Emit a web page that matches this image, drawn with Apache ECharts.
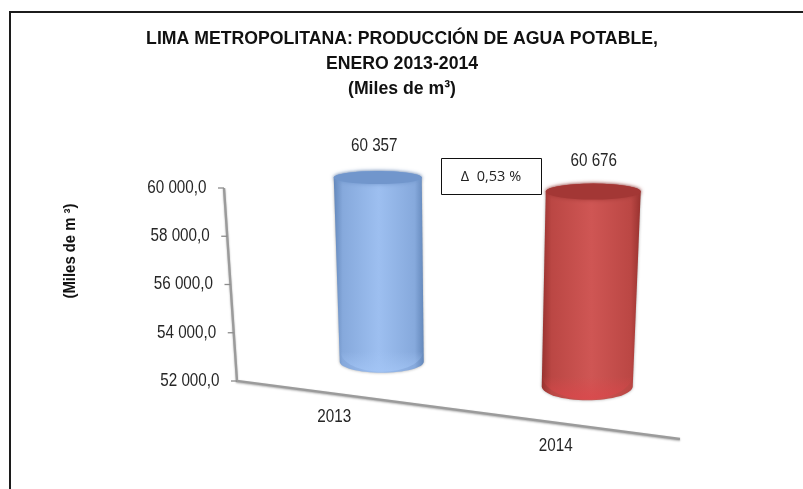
<!DOCTYPE html>
<html>
<head>
<meta charset="utf-8">
<title>Lima Metropolitana</title>
<script src="https://cdn.jsdelivr.net/npm/echarts@6/dist/echarts.min.js"></script>
<style>
html, body { margin: 0; padding: 0; background: #fff; }
#chart { width: 803px; height: 489px; }
</style>
</head>
<body>
<div id="chart"></div>
<script>
// data
var years = ['2013', '2014'];
var produccion = [60357, 60676];
var yTicks = [52000, 54000, 56000, 58000, 60000];
var yTickLabels = ['52 000,0', '54 000,0', '56 000,0', '58 000,0', '60 000,0'];
var valueLabels = ['60 357', '60 676'];
var variacion = 'Δ  0,53 %';
var chartTitle = 'LIMA METROPOLITANA: PRODUCCIÓN DE AGUA POTABLE,\nENERO 2013-2014\n(Miles de m³)';
var yName = '(Miles de m ³)';

// fake 3d: the plot floor runs downhill and the y axis leans left
var yMin = 52000, yMax = 60000;
var floorSlope = 58 / 443, axisLean = 13 / 8000;
var depthX = [32, 21], depthY = 27;
var perspective = [1, 1.035];
var cylWidth = [86, 93];
var cylLean = [-2, 3];
var capRy = [6.5, 8];
var baseRy = [11, 14];
var labelFont = '"Liberation Sans", Arial, sans-serif';
var palette = [
    { edge: '#6488bb', side: '#86a9dc', mid: '#9dbff0', cap: '#7196cc', base: '#a4c6f6' },
    { edge: '#98322f', side: '#bb4744', mid: '#cf5654', cap: '#a33735', base: '#dc474b' }
];

function arc(cx, cy, rx, ry, from, to) {
    var pts = [];
    for (var k = 0; k <= 32; k++) {
        var a = from + (to - from) * k / 32;
        pts.push([cx + rx * Math.cos(a), cy + ry * Math.sin(a)]);
    }
    return pts;
}

// narrow tall text: the installed fonts have no condensed cut
function narrowText(x, y, text, align) {
    return {
        type: 'text', x: x, y: y, scaleX: 0.87,
        style: { x: 0, y: 0, text: text, align: align, verticalAlign: 'middle', fill: '#262626', font: '17.5px ' + labelFont }
    };
}

function renderFrame(params, api) {
    var children = [];
    var origin = api.coord([0, yMin]);
    var axisTop = api.coord([0, yMax]);
    var gridLeft = params.coordSys.x;
    var gridWidth = params.coordSys.width;

    // y axis and x axis lines
    children.push({
        type: 'polyline',
        shape: { points: [
            [gridLeft - (yMax - yMin) * axisLean, axisTop[1]],
            [gridLeft, origin[1]],
            [gridLeft + gridWidth, origin[1] + gridWidth * floorSlope]
        ] },
        style: { fill: null, stroke: '#9b9b9b', lineWidth: 2.4, shadowBlur: 2, shadowColor: 'rgba(0,0,0,0.3)', shadowOffsetY: 1 }
    });

    yTicks.forEach(function (v, i) {
        var y = api.coord([0, v])[1];
        var x = gridLeft - (v - yMin) * axisLean;
        children.push({ type: 'line', shape: { x1: x - 6, y1: y, x2: x, y2: y }, style: { stroke: '#8c8c8c', lineWidth: 1.3 } });
        children.push(narrowText(x - 17.5, y, yTickLabels[i], 'right'));
    });

    years.forEach(function (name, i) {
        var x = gridLeft + gridWidth * (i + 0.5) / years.length;
        var y = origin[1] + (x - gridLeft) * floorSlope;
        children.push(narrowText(x - 13.5, y + 22, name, 'center'));
    });
    return { type: 'group', children: children };
}

function renderCylinder(params, api) {
    var i = api.value(0);
    var base = api.coord([i, yMin]);
    var w = cylWidth[i] / 2;
    var cx = base[0] + depthX[i];
    var bottom = base[1] + (cx - params.coordSys.x) * floorSlope - depthY;
    var top = bottom - (base[1] - api.coord([i, api.value(1)])[1]) * perspective[i];
    var col = palette[i];
    var topCy = top + capRy[i];
    var botCy = bottom - baseRy[i];
    var topX = cx + cylLean[i];
    var botX = cx - cylLean[i];

    var body = arc(topX, topCy, w + 1, capRy[i], Math.PI, 2 * Math.PI)
        .concat(arc(botX, botCy, w - 1, baseRy[i], 0, Math.PI));

    return {
        type: 'group',
        children: [
            {
                type: 'polygon',
                shape: { points: body },
                style: {
                    fill: new echarts.graphic.LinearGradient(0, 0, 1, 0, [
                        { offset: 0, color: col.edge },
                        { offset: 0.1, color: col.side },
                        { offset: 0.5, color: col.mid },
                        { offset: 0.9, color: col.side },
                        { offset: 1, color: col.edge }
                    ]),
                    shadowBlur: 3,
                    shadowColor: 'rgba(60,60,60,0.45)'
                }
            },
            {
                type: 'polygon',
                shape: { points: arc(botX, botCy - 10, w - 2, baseRy[i] + 9, 0, Math.PI) },
                style: {
                    fill: new echarts.graphic.LinearGradient(0, 0, 0, 1, [
                        { offset: 0, color: col.base + '00' },
                        { offset: 1, color: col.base }
                    ]),
                    opacity: 0.75
                }
            },
            {
                type: 'polygon',
                shape: { points: arc(topX, topCy, w + 1, capRy[i], 0, 2 * Math.PI) },
                style: { fill: col.cap, shadowBlur: 4, shadowColor: col.cap }
            },
            narrowText(cx - 5.5 + i * 9, top - 25 + i * 3, valueLabels[i], 'center')
        ]
    };
}

var opts = {
    animation: false,
    backgroundColor: '#fff',
    grid: { left: 237, top: 188, width: 443, height: 193 },
    xAxis: { type: 'category', data: years, show: false },
    yAxis: {
        type: 'value', min: yMin, max: yMax, interval: 2000,
        axisLine: { show: false }, axisTick: { show: false }, axisLabel: { show: false }, splitLine: { show: false }
    },
    graphic: [
        {
            type: 'polyline', silent: true,
            shape: { points: [[10, 489], [10, 12], [803, 12]] },
            style: { fill: null, stroke: '#1c1c1c', lineWidth: 2 }
        },
        {
            type: 'text', silent: true, x: 402, y: 26, scaleX: 0.93,
            style: { x: 0, y: 0, text: chartTitle, align: 'center', verticalAlign: 'top', lineHeight: 25, fill: '#111', font: 'bold 19px ' + labelFont }
        },
        {
            type: 'text', silent: true, x: 70, y: 251, rotation: Math.PI / 2, scaleX: 0.9,
            style: { x: 0, y: 0, text: yName, align: 'center', verticalAlign: 'middle', fill: '#111', font: 'bold 16.5px ' + labelFont }
        },
        {
            type: 'rect', silent: true, z: 10,
            shape: { x: 441.5, y: 158.5, width: 100, height: 36 },
            style: { fill: '#fff', stroke: '#111', lineWidth: 1 }
        },
        {
            type: 'text', silent: true, z: 11,
            style: { x: 491, y: 177, text: variacion, align: 'center', verticalAlign: 'middle', fill: '#222', font: '14.5px "Open Sans", sans-serif' }
        }
    ],
    series: [
        { type: 'custom', coordinateSystem: 'cartesian2d', renderItem: renderFrame, data: [[0, yMin]], silent: true, clip: false },
        {
            type: 'custom', coordinateSystem: 'cartesian2d', renderItem: renderCylinder, silent: true, clip: false,
            encode: { x: 0, y: 1 },
            data: produccion.map(function (v, i) { return [i, v]; })
        }
    ]
};

echarts.init(document.getElementById('chart')).setOption(opts);
</script>
</body>
</html>
